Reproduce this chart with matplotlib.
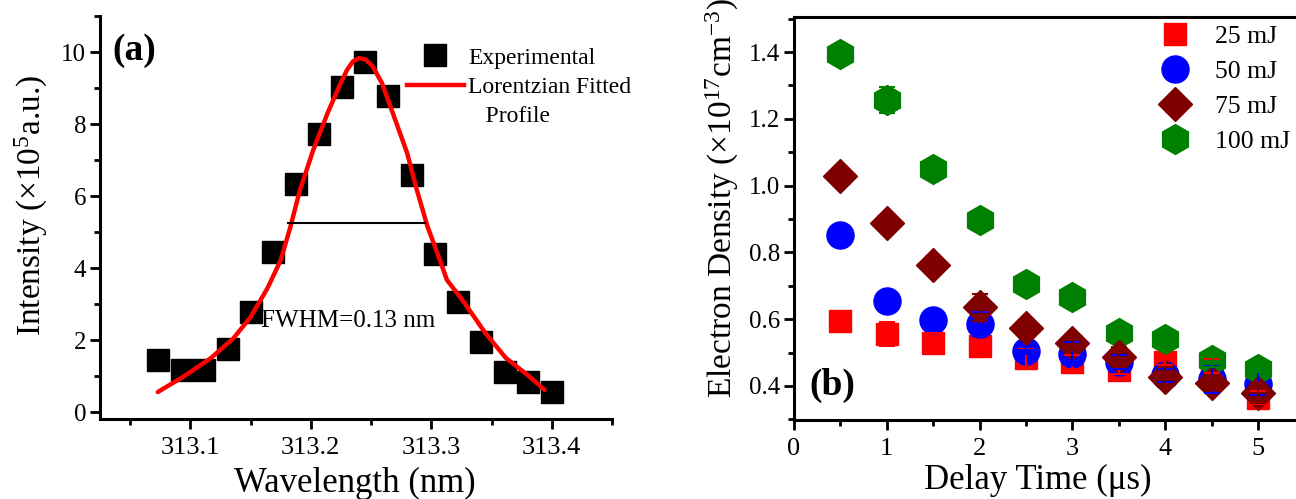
import numpy as np
import matplotlib
matplotlib.use('Agg')
import matplotlib.pyplot as plt
from matplotlib.lines import Line2D
from matplotlib.ticker import MultipleLocator, FormatStrFormatter

plt.rcParams['font.family'] = ['Liberation Serif', 'DejaVu Serif']
plt.rcParams['mathtext.fontset'] = 'custom'
plt.rcParams['mathtext.rm'] = 'Liberation Serif'
plt.rcParams['mathtext.it'] = 'Liberation Serif:italic'
plt.rcParams['mathtext.bf'] = 'Liberation Serif:bold'

# (a) эксперимент и подгонка Лоренца
wl_exp = [313.073, 313.093, 313.111, 313.131, 313.150, 313.169, 313.188, 313.207, 313.226,
          313.245, 313.264, 313.284, 313.303, 313.322, 313.341, 313.361, 313.380, 313.400]
int_exp = [1.45, 1.17, 1.17, 1.75, 2.78, 4.44, 6.33, 7.72, 9.03,
           9.72, 8.78, 6.58, 4.39, 3.06, 1.94, 1.11, 0.83, 0.56]

wl_fit = [313.073, 313.094, 313.117, 313.136, 313.150, 313.164, 313.175, 313.183, 313.191,
          313.202, 313.214, 313.224, 313.230, 313.235, 313.240, 313.245, 313.251, 313.259,
          313.268, 313.280, 313.288, 313.297, 313.305, 313.313, 313.327, 313.345, 313.362,
          313.380, 313.394]
int_fit = [0.56, 0.98, 1.50, 2.06, 2.64, 3.44, 4.22, 5.14, 6.17,
           7.28, 8.31, 9.08, 9.50, 9.74, 9.83, 9.80, 9.62, 9.14,
           8.31, 7.19, 6.17, 5.14, 4.42, 3.67, 3.06, 2.19, 1.50,
           1.03, 0.62]

fwhm_x = [313.181, 313.295]
fwhm_y = 5.25

# (b) электронная плотность
delay = [0.5, 1.0, 1.5, 2.0, 2.5, 3.0, 3.5, 4.0, 4.5, 5.0]
ne_25 = [0.596, 0.556, 0.529, 0.521, 0.485, 0.472, 0.447, 0.472, 0.460, 0.365]
ne_50 = [0.852, 0.654, 0.599, 0.586, 0.506, 0.497, 0.472, 0.432, 0.420, 0.407]
ne_75 = [1.029, 0.887, 0.763, 0.636, 0.573, 0.528, 0.487, 0.428, 0.409, 0.379]
ne_100 = [1.395, 1.256, 1.051, 0.898, 0.705, 0.666, 0.558, 0.541, 0.477, 0.452]
err_25 = [0.01, 0.035, 0.03, 0.01, 0.03, 0.02, 0.01, 0.01, 0.02, 0.02]
err_50 = [0.02, 0.02, 0.01, 0.035, 0.01, 0.035, 0.02, 0.02, 0.04, 0.035]
err_75 = [0.01, 0.01, 0.01, 0.04, 0.02, 0.02, 0.03, 0.03, 0.02, 0.03]
err_100 = [0.01, 0.04, 0.01, 0.01, 0.01, 0.01, 0.01, 0.01, 0.02, 0.01]
energies = ['25 mJ', '50 mJ', '75 mJ', '100 mJ']

fig = plt.figure(figsize=(12.96, 4.99), dpi=100)
ax_a = fig.add_axes([100 / 1296, 80 / 499, 512 / 1296, 403 / 499])
ax_b = fig.add_axes([794 / 1296, 79 / 499, 502 / 1296, 403 / 499])

for ax in (ax_a, ax_b):
    for s in ax.spines.values():
        s.set_linewidth(2.2)
    ax.tick_params(which='both', direction='out', width=2)
    ax.tick_params(which='major', length=7)
    ax.tick_params(which='minor', length=4.5)
    ax.tick_params(axis='x', pad=6, labelsize=19)
    ax.tick_params(axis='y', pad=3, labelsize=18)

# ----- панель (a)
ax_a.plot(wl_exp, int_exp, 's', color='black', ms=16.5, zorder=2)
ax_a.plot(wl_fit, int_fit, '-', color='#ff0000', lw=3.2, zorder=3,
          solid_capstyle='round', solid_joinstyle='round')
ax_a.plot(fwhm_x, [fwhm_y, fwhm_y], '-', color='black', lw=1.5, zorder=4)
ax_a.text(313.159, 2.36, 'FWHM=0.13 nm', fontsize=18, va='baseline', ha='left', zorder=5)

ax_a.set_xlim(313.025, 313.45)
ax_a.set_ylim(-0.19, 11.0)
ax_a.xaxis.set_major_locator(MultipleLocator(0.1))
ax_a.xaxis.set_minor_locator(MultipleLocator(0.05))
ax_a.yaxis.set_major_locator(MultipleLocator(2))
ax_a.yaxis.set_minor_locator(MultipleLocator(1))
ax_a.spines['top'].set_visible(False)
ax_a.spines['right'].set_visible(False)
ax_a.set_xlabel('Wavelength (nm)', fontsize=25)
ax_a.set_ylabel('Intensity (×10$^5$a.u.)', fontsize=24)
ax_a.xaxis.set_label_coords(0.498, -0.12)
ax_a.yaxis.set_label_coords(-0.098, 0.53)
fig.text(134 / 1296, 1 - 51 / 499, '(a)', fontsize=27, fontweight='bold', ha='center', va='center')

h_a = [Line2D([], [], marker='s', color='black', ls='none', ms=16.5),
       Line2D([], [], color='#ff0000', lw=3.2),
       Line2D([], [], ls='none')]
ax_a.legend(h_a, ['Experimental', 'Lorentzian Fitted', '   Profile'], loc='upper left',
            bbox_to_anchor=(407 / 1296, 1 - 47 / 499), bbox_transform=fig.transFigure,
            frameon=False, fontsize=17, handlelength=2.4, handletextpad=0.2,
            labelspacing=0.33, borderpad=0, borderaxespad=0)

# ----- панель (b)
series = [
    (ne_25, err_25, 's', '#ff0000', 16.5, 2),
    (ne_50, err_50, 'o', '#0000ff', 19.5, 3),
    (ne_75, err_75, 'D', '#800000', 17.5, 5),
    (ne_100, err_100, 'h', '#008000', 21.5, 4),
]
handles = []
for vals, errs, mk, col, ms, z in series:
    ax_b.plot(delay, vals, mk, color=col, ms=ms, mec=col, zorder=z)
    ax_b.errorbar(delay, vals, yerr=errs, fmt='none', ecolor=col, elinewidth=1.5,
                  capsize=6, capthick=1.5, zorder=z + 5)
    handles.append(Line2D([], [], marker=mk, color=col, ls='none', ms=ms))

ax_b.set_xlim(0, 5.41)
ax_b.set_ylim(0.298, 1.505)
ax_b.xaxis.set_major_locator(MultipleLocator(1))
ax_b.xaxis.set_minor_locator(MultipleLocator(0.5))
ax_b.yaxis.set_major_locator(MultipleLocator(0.2))
ax_b.yaxis.set_minor_locator(MultipleLocator(0.1))
ax_b.yaxis.set_major_formatter(FormatStrFormatter('%.1f'))
ax_b.spines['right'].set_visible(False)
ax_b.set_xlabel('Delay Time (μs)', fontsize=25)
ax_b.set_ylabel('Electron Density (×10$^{17}$cm$^{-3}$)', fontsize=24)
ax_b.xaxis.set_label_coords(0.485, -0.11)
ax_b.yaxis.set_label_coords(-0.105, 0.55)
fig.text(832 / 1296, 1 - 385 / 499, '(b)', fontsize=27, fontweight='bold', ha='center', va='center')

ax_b.legend(handles, energies, loc='upper left',
            bbox_to_anchor=(1154 / 1296, 1 - 25 / 499), bbox_transform=fig.transFigure,
            frameon=False, fontsize=18.5, handlelength=1.6, handletextpad=0.78,
            labelspacing=0.47, borderpad=0, borderaxespad=0)

fig.savefig('out.png', dpi=100)
